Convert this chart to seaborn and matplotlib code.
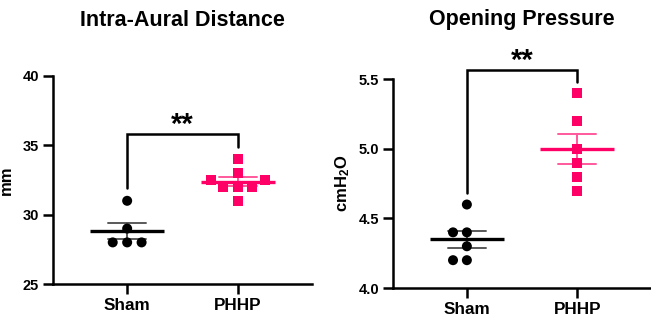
import matplotlib
matplotlib.use("Agg")
import matplotlib.pyplot as plt
import seaborn as sns
import pandas as pd

# ---- data ----
groups = ["Sham", "PHHP"]
colors = ["#000000", "#FF0066"]

ia_sham = [31, 29, 28, 28, 28]
ia_phhp = [34, 33, 32.5, 32.5, 32, 32, 32, 31]

op_sham = [4.6, 4.4, 4.4, 4.3, 4.2, 4.2]
op_phhp = [5.4, 5.2, 5.0, 4.9, 4.8, 4.7]

ia_ticks = [25, 30, 35, 40]
op_ticks = [4.0, 4.5, 5.0, 5.5]

# significance brackets: [left leg bottom, top, right leg bottom, star y]
ia_bracket = [31.9, 35.8, 34.85, 36.5]
op_bracket = [4.68, 5.57, 5.48, 5.63]

titles = ["Intra-Aural Distance", "Opening Pressure"]
ylabels = ["mm", "cmH$_2$O"]

sns.set_theme(style="ticks")
plt.rcParams["font.family"] = ["Liberation Sans", "DejaVu Sans"]
plt.rcParams["font.weight"] = "bold"
plt.rcParams["mathtext.fontset"] = "custom"
plt.rcParams["mathtext.rm"] = "Liberation Sans:bold"
plt.rcParams["mathtext.default"] = "rm"
for k in ["text.color", "axes.labelcolor", "xtick.color", "ytick.color", "axes.edgecolor"]:
    plt.rcParams[k] = "black"

fig = plt.figure(figsize=(6.51, 3.26), dpi=100)
W, H = 651, 326
ax1 = fig.add_axes([53 / W, 1 - 284 / H, (312 - 53) / W, (284 - 76) / H])
ax2 = fig.add_axes([393 / W, 1 - 288 / H, (651 - 393) / W, (288 - 79.3) / H])

def make_df(a, b):
    return pd.DataFrame({"group": [groups[0]] * len(a) + [groups[1]] * len(b),
                         "value": list(a) + list(b)})

panels = [
    (ax1, make_df(ia_sham, ia_phhp), ia_ticks, ia_bracket, (25, 40), ylabels[0], 9.9),
    (ax2, make_df(op_sham, op_phhp), op_ticks, op_bracket, (4.0, 5.5), ylabels[1], 9.5),
]

pal = dict(zip(groups, colors))
swarm_colls = []

for ax, df, ticks, br, ylim, ylabel, swarm_size in panels:
    ax.set_xlim(-0.67, 1.67)
    ax.set_ylim(*ylim)
    for g, m in zip(groups, ["o", "s"]):
        sub = df[df["group"] == g]
        n0 = len(ax.collections)
        sns.swarmplot(data=sub, x="group", y="value", order=groups, color=pal[g],
                      marker=m, size=swarm_size, linewidth=0, ax=ax, zorder=3)
        swarm_colls += ax.collections[n0:]
    ax.set_xlim(-0.67, 1.67)
    ax.set_ylim(*ylim)
    sns.pointplot(data=df, x="group", y="value", order=groups, hue="group",
                  palette=pal, errorbar="se", markers="_", markersize=53,
                  markeredgewidth=2.4, linestyle="none", capsize=0.34,
                  err_kws={"linewidth": 1.4, "alpha": 0.65}, legend=False,
                  ax=ax, zorder=4)
    ax.set_xlim(-0.67, 1.67)
    ax.set_ylim(*ylim)
    ax.set_yticks(ticks)
    ax.set_yticklabels([f"{t:g}" if ax is ax1 else f"{t:.1f}" for t in ticks],
                       fontsize=10.5, fontweight="bold")
    ax.set_xticks([0, 1])
    ax.set_xticklabels(groups, fontsize=12.3, fontweight="bold")
    ax.set_xlabel("")
    ax.set_ylabel(ylabel, fontsize=12, fontweight="bold")
    sns.despine(ax=ax)
    for s in ["left", "bottom"]:
        ax.spines[s].set_linewidth(1.8)
    ax.tick_params(axis="both", width=1.8, length=7, color="black", pad=3)
    # significance bracket
    ax.plot([0, 0, 1, 1], [br[0], br[1], br[1], br[2]], color="black",
            lw=1.8, clip_on=False, solid_joinstyle="miter")
    ax.text(0.5, br[3], "**", ha="center", va="center", fontsize=21,
            fontweight="bold", clip_on=False)

ax1.yaxis.set_label_coords(-0.15, 0.5)
ax2.yaxis.set_label_coords(-0.16, 0.5)

fig.text(182 / W, 1 - 20 / H, titles[0], ha="center", va="center",
         fontsize=15.5, fontweight="bold")
fig.text(522 / W, 1 - 20 / H, titles[1], ha="center", va="center",
         fontsize=15.5, fontweight="bold")

# let seaborn's swarm layout run with a wider spacing, then shrink the markers
fig.canvas.draw()
for c in swarm_colls:
    if "draw" in c.__dict__:
        del c.__dict__["draw"]
    c.set_sizes([7.2 ** 2] * len(c.get_offsets()))

fig.savefig("out.png", dpi=100)
